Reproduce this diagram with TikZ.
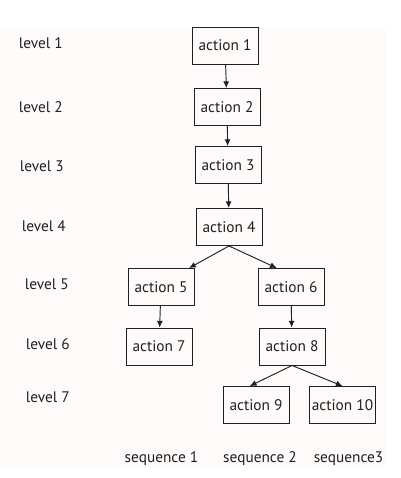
\documentclass[tikz,border=0pt]{standalone}
\usepackage{fontspec}
\setmainfont{PT Sans}
\usetikzlibrary{arrows.meta}
\definecolor{ink}{RGB}{35,31,32}
\definecolor{paper}{RGB}{253,252,250}
\begin{document}
\begin{tikzpicture}
      [x=0.75pt,y=-0.75pt,auto,ink,line width=0.7pt,
      act node/.style={rectangle,draw,fill=paper,minimum width=49.5pt,
        minimum height=27.75pt,inner sep=1pt,font=\fontsize{11.5}{13}\selectfont},
      lvl node/.style={anchor=west,font=\fontsize{11.5}{13}\selectfont},
      seq node/.style={font=\fontsize{11.5}{13}\selectfont},
      flow/.style={-{Latex[length=5pt,width=4.5pt]}}]
      \useasboundingbox (0,0) rectangle (400,478);
      \fill[paper] (0,27) rectangle (386,466);
      % levels
      \node[lvl node] (l1) at (14,43) {level 1};
      \node[lvl node] (l2) at (14,107) {level 2};
      \node[lvl node] (l3) at (15,166) {level 3};
      \node[lvl node] (l4) at (17,226) {level 4};
      \node[lvl node] (l5) at (20,284) {level 5};
      \node[lvl node] (l6) at (21,344) {level 6};
      \node[lvl node] (l7) at (21,397) {level 7};
      % actions
      \node[act node] (a1) at (225,45.5) {action 1};
      \node[act node] (a2) at (227,107) {action 2};
      \node[act node] (a3) at (228,165) {action 3};
      \node[act node] (a4) at (229,227) {action 4};
      \node[act node] (a5) at (161,287) {action 5};
      \node[act node] (a6) at (291,287) {action 6};
      \node[act node] (a7) at (159,346.5) {action 7};
      \node[act node] (a8) at (292,346.5) {action 8};
      \node[act node] (a9) at (256,405) {action 9};
      \node[act node] (a10) at (342.5,405) {action 10};
      % sequences
      \node[seq node] (s1) at (161.5,459) {sequence 1};
      \node[seq node] (s2) at (260,459) {sequence 2};
      \node[seq node] (s3) at (348.5,459) {sequence3};
      \path[flow] (a1) edge (a2);
      \path[flow] (a2) edge (a3);
      \path[flow] (a3) edge (a4);
      \path[flow] (a4.south) edge (a5.34);
      \path[flow] (a4.south) edge (a6.127);
      \path[flow] (a5) edge (a7);
      \path[flow] (a6) edge (a8);
      \path[flow] (a8.south) edge (a9.108);
      \path[flow] (a8.south) edge (a10.north);
    \end{tikzpicture}
\end{document}
